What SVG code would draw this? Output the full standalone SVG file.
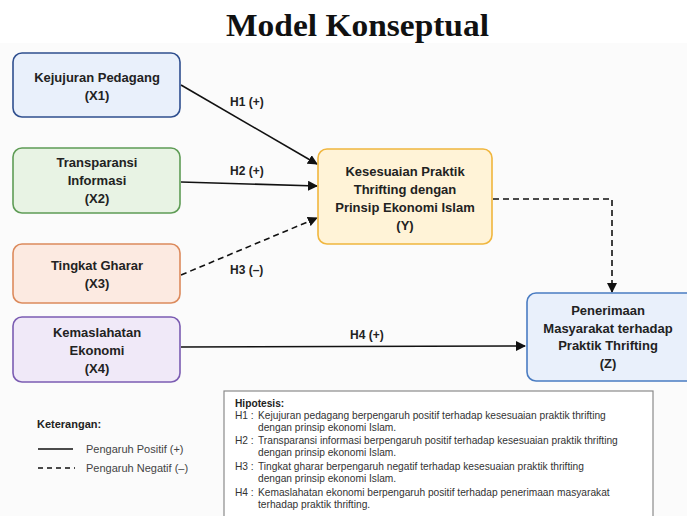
<svg xmlns="http://www.w3.org/2000/svg" width="687" height="516" viewBox="0 0 687 516">
<defs>
<marker id="arr" viewBox="0 0 10 10" refX="9" refY="5" markerWidth="10" markerHeight="10" markerUnits="userSpaceOnUse" orient="auto">
<path d="M0,0 L10,5 L0,10 z" fill="#111"/>
</marker>
<style>
.node text{font-family:"Liberation Sans",Arial,sans-serif;font-size:13px;font-weight:bold;fill:#222;text-anchor:middle}
.box{stroke-width:1.6}
.solid{stroke:#111;stroke-width:1.6;fill:none}
.dash{stroke:#111;stroke-width:1.6;fill:none;stroke-dasharray:6 4}
.lbl{font-family:"Liberation Sans",Arial,sans-serif;font-size:12px;font-weight:bold;fill:#222}
.leg{font-family:"Liberation Sans",Arial,sans-serif;font-size:11px;fill:#444}
.hyp{font-family:"Liberation Sans",Arial,sans-serif;font-size:10.2px;fill:#333}
</style>
</defs>
<rect x="0" y="0" width="687" height="516" fill="#ffffff"/>
<rect x="0" y="43" width="687" height="473" fill="#fbfbfb"/>
<text x="357.5" y="36" text-anchor="middle" font-family="'Liberation Serif','Times New Roman',serif" font-size="32" font-weight="bold" fill="#111" textLength="263" lengthAdjust="spacingAndGlyphs">Model Konseptual</text>

<g id="connectors">
<line class="solid" x1="181" y1="85" x2="317" y2="164" marker-end="url(#arr)"/>
<line class="solid" x1="181" y1="182" x2="317" y2="186" marker-end="url(#arr)"/>
<line class="dash" x1="181" y1="275" x2="317" y2="218" marker-end="url(#arr)"/>
<line class="solid" x1="181" y1="347" x2="525" y2="346" marker-end="url(#arr)"/>
<polyline class="dash" points="493,199 612,199 612,292" marker-end="url(#arr)"/>
<text class="lbl" x="230" y="106">H1 (+)</text>
<text class="lbl" x="230" y="175">H2 (+)</text>
<text class="lbl" x="230" y="274">H3 (–)</text>
<text class="lbl" x="350" y="339">H4 (+)</text>
</g>

<g id="X1" class="node">
<rect class="box" x="13" y="53" width="167" height="64" rx="9" fill="#e9f0fb" stroke="#2f4f8f"/>
<text x="97" y="82">Kejujuran Pedagang</text>
<text x="97" y="100">(X1)</text>
</g>
<g id="X2" class="node">
<rect class="box" x="13" y="148" width="167" height="65" rx="9" fill="#e8f3e4" stroke="#5e9c55"/>
<text x="97" y="167">Transparansi</text>
<text x="97" y="185">Informasi</text>
<text x="97" y="203">(X2)</text>
</g>
<g id="X3" class="node">
<rect class="box" x="13" y="244" width="167" height="59" rx="9" fill="#fceae1" stroke="#dc8a5c"/>
<text x="97" y="270">Tingkat Gharar</text>
<text x="97" y="288">(X3)</text>
</g>
<g id="X4" class="node">
<rect class="box" x="13" y="317" width="167" height="65" rx="9" fill="#f0e9f8" stroke="#7b5cb2"/>
<text x="97" y="337">Kemaslahatan</text>
<text x="97" y="355">Ekonomi</text>
<text x="97" y="373">(X4)</text>
</g>
<g id="Y" class="node">
<rect class="box" x="318" y="149" width="174" height="95" rx="9" fill="#fff3d7" stroke="#f0b63e"/>
<text x="405" y="176">Kesesuaian Praktik</text>
<text x="405" y="194">Thrifting dengan</text>
<text x="405" y="212">Prinsip Ekonomi Islam</text>
<text x="405" y="230">(Y)</text>
</g>
<g id="Z" class="node">
<rect class="box" x="527" y="293" width="170" height="88" rx="9" fill="#e9f0fb" stroke="#4a7cc2"/>
<text x="608" y="315">Penerimaan</text>
<text x="608" y="333">Masyarakat terhadap</text>
<text x="608" y="350">Praktik Thrifting</text>
<text x="608" y="368">(Z)</text>
</g>

<g id="legend">
<text x="37" y="428" font-family="'Liberation Sans',Arial,sans-serif" font-size="11" font-weight="bold" fill="#222">Keterangan:</text>
<line x1="38" y1="449" x2="73" y2="449" stroke="#111" stroke-width="1.5"/>
<text class="leg" x="86" y="453">Pengaruh Positif (+)</text>
<line x1="38" y1="468" x2="75" y2="468" stroke="#111" stroke-width="1.5" stroke-dasharray="5 4"/>
<text class="leg" x="86" y="472">Pengaruh Negatif (–)</text>
</g>

<g id="hipotesis">
<rect x="224" y="391" width="429" height="135" fill="#ffffff" stroke="#8a8a8a" stroke-width="1.2"/>
<text x="235" y="407" font-family="'Liberation Sans',Arial,sans-serif" font-size="10.2" font-weight="bold" fill="#222">Hipotesis:</text>
<text class="hyp" x="235" y="419">H1 :</text>
<text class="hyp" x="258" y="419">Kejujuran pedagang berpengaruh positif terhadap kesesuaian praktik thrifting</text>
<text class="hyp" x="258" y="431">dengan prinsip ekonomi Islam.</text>
<text class="hyp" x="235" y="444">H2 :</text>
<text class="hyp" x="258" y="444">Transparansi informasi berpengaruh positif terhadap kesesuaian praktik thrifting</text>
<text class="hyp" x="258" y="456">dengan prinsip ekonomi Islam.</text>
<text class="hyp" x="235" y="470">H3 :</text>
<text class="hyp" x="258" y="470">Tingkat gharar berpengaruh negatif terhadap kesesuaian praktik thrifting</text>
<text class="hyp" x="258" y="482">dengan prinsip ekonomi Islam.</text>
<text class="hyp" x="235" y="496">H4 :</text>
<text class="hyp" x="258" y="496">Kemaslahatan ekonomi berpengaruh positif terhadap penerimaan masyarakat</text>
<text class="hyp" x="258" y="508">terhadap praktik thrifting.</text>
</g>
</svg>
